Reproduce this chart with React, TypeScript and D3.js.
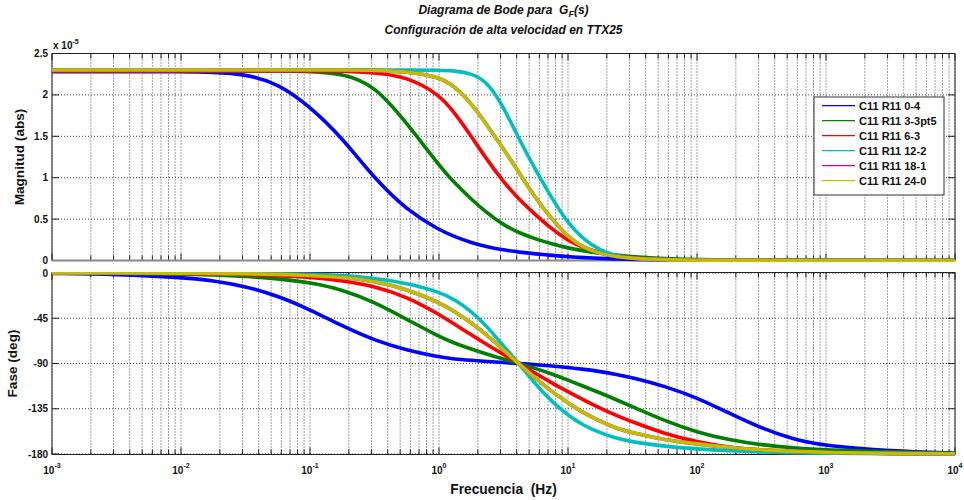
import React from "react";
import * as d3 from "d3";

// Frequency samples (Hz) read along the log axis
const freqHz = [0.001, 0.00316, 0.01, 0.0178, 0.0316, 0.0562, 0.1, 0.178, 0.316, 0.562, 1, 1.33, 1.78, 2.37, 3.16, 4.22, 5.62, 7.5, 10, 13.3, 17.8, 23.7, 31.6, 56.2, 100, 178, 316, 562, 1000, 3162, 10000];

const seriesNames = ["C11 R11 0-4", "C11 R11 3-3pt5", "C11 R11 6-3", "C11 R11 12-2", "C11 R11 18-1", "C11 R11 24-0"];
const seriesColors = ["#0000ff", "#008000", "#ff0000", "#00bfbf", "#bf00bf", "#bfbf00"];

// Magnitude (x 1e-5)
const mag04 = [2.28, 2.28, 2.28, 2.275, 2.25, 2.14, 1.86, 1.48, 0.99, 0.61, 0.37, 0.285, 0.215, 0.165, 0.127, 0.1, 0.08, 0.062, 0.046, 0.034, 0.025, 0.018, 0.012, 0.006, 0.003, 0.002, 0.001, 0.0005, 0.0002, 0.0001, 0];
const mag33 = [2.29, 2.29, 2.29, 2.29, 2.29, 2.29, 2.285, 2.26, 2.12, 1.66, 1.15, 0.93, 0.74, 0.57, 0.43, 0.33, 0.26, 0.2, 0.15, 0.115, 0.087, 0.065, 0.046, 0.02, 0.01, 0.005, 0.002, 0.001, 0.0005, 0.0001, 0];
const mag63 = [2.29, 2.29, 2.29, 2.29, 2.29, 2.29, 2.29, 2.29, 2.27, 2.22, 2.01, 1.78, 1.5, 1.21, 0.95, 0.73, 0.55, 0.38, 0.24, 0.15, 0.095, 0.055, 0.03, 0.01, 0.004, 0.002, 0.001, 0.0005, 0.0003, 0.0001, 0];
const mag122 = [2.3, 2.3, 2.3, 2.3, 2.3, 2.3, 2.3, 2.3, 2.3, 2.3, 2.3, 2.29, 2.26, 2.16, 1.86, 1.45, 1.09, 0.75, 0.45, 0.25, 0.12, 0.055, 0.025, 0.007, 0.003, 0.0015, 0.001, 0.0005, 0.0003, 0.0001, 0];
const mag181 = [2.3, 2.3, 2.3, 2.3, 2.3, 2.3, 2.3, 2.3, 2.3, 2.28, 2.22, 2.1, 1.9, 1.63, 1.35, 1.05, 0.75, 0.5, 0.285, 0.15, 0.085, 0.045, 0.025, 0.008, 0.003, 0.0015, 0.001, 0.0005, 0.0003, 0.0001, 0];
const mag240 = [2.3, 2.3, 2.3, 2.3, 2.3, 2.3, 2.3, 2.3, 2.3, 2.28, 2.22, 2.1, 1.9, 1.63, 1.35, 1.05, 0.75, 0.5, 0.285, 0.15, 0.085, 0.045, 0.025, 0.008, 0.003, 0.0015, 0.001, 0.0005, 0.0003, 0.0001, 0];

// Phase (deg)
const ph04 = [-0.4, -1.4, -4.3, -7.6, -13.2, -22.6, -36.4, -52.8, -67, -77, -83.5, -85.6, -86.8, -88, -89, -90, -91.2, -92.5, -94, -95.8, -98, -100.8, -104, -112.5, -124, -139.5, -154.5, -165.5, -172, -177, -179.2];
const ph33 = [-0.1, -0.3, -1.0, -1.9, -3.3, -5.6, -9.5, -16.5, -29, -46, -63.3, -70, -75.6, -80.8, -85.6, -90.3, -95, -100.3, -106.6, -112.9, -119.3, -126, -133, -147, -158.5, -166, -171, -174, -176, -178, -179.4];
const ph63 = [-0.05, -0.15, -0.5, -0.9, -1.5, -2.6, -4.3, -7.5, -13, -23.5, -41, -51.3, -61.5, -71.5, -81, -90.5, -100, -109.3, -118, -126.5, -134.5, -141.8, -148, -160, -168, -173.5, -176.3, -177.8, -178.7, -179.5, -179.8];
const ph122 = [0, 0, -0.1, -0.2, -0.4, -0.7, -1.3, -2.4, -5, -10, -18.7, -26.5, -38, -53.5, -72.5, -91, -111, -128, -141.5, -152, -159, -164.5, -168, -172.5, -175, -176.8, -178, -178.8, -179.2, -179.7, -179.9];
const ph181 = [0, -0.05, -0.2, -0.4, -0.7, -1.3, -2.3, -4.1, -8, -16, -29, -38.5, -49.5, -62, -76.5, -91, -105, -118, -129, -139.5, -147.5, -154.5, -159, -166, -170, -173.5, -176, -177.5, -178.5, -179.5, -179.8];
const ph240 = [0, -0.05, -0.2, -0.4, -0.7, -1.3, -2.3, -4.1, -8, -16, -29, -38.5, -49.5, -62, -76.5, -91, -105, -118, -129, -139.5, -147.5, -154.5, -159, -166, -170, -173.5, -176, -177.5, -178.5, -179.5, -179.8];

const magSeries = [mag04, mag33, mag63, mag122, mag181, mag240];
const phaseSeries = [ph04, ph33, ph63, ph122, ph181, ph240];

const magTicks = [0, 0.5, 1, 1.5, 2, 2.5];
const magTickLabels = ["0", "0.5", "1", "1.5", "2", "2.5"];
const phaseTicks = [0, -45, -90, -135, -180];
const phaseTickLabels = ["0", "-45", "-90", "-135", "-180"];
const decadeExps = [-3, -2, -1, 0, 1, 2, 3, 4];

const titleLine1 = "Diagrama de Bode para  G";
const titleSub = "F";
const titleTail = "(s)";
const titleLine2 = "Configuración de alta velocidad en TTX25";
const xLabel = "Frecuencia  (Hz)";
const yLabelMag = "Magnitud (abs)";
const yLabelPhase = "Fase (deg)";

const FONT = "'Liberation Sans', Arial, Helvetica, sans-serif";

export default function App() {
  const left = 52, right = 955;
  const x = d3.scaleLog().domain([1e-3, 1e4]).range([left, right]);
  const magTop = 53.5, magBot = 260.5;
  const yMag = d3.scaleLinear().domain([0, 2.5]).range([magBot, magTop]);
  const phTop = 273, phBot = 454;
  const yPh = d3.scaleLinear().domain([-180, 0]).range([phBot, phTop]);

  const majorX = decadeExps.map((e) => Math.pow(10, e));
  const minorX: number[] = [];
  for (let d = -3; d < 4; d++) for (let k = 2; k <= 9; k++) minorX.push(k * Math.pow(10, d));

  const magLine = d3.line<number>().x((_, i) => x(freqHz[i])).y((v) => yMag(v)).curve(d3.curveBasis);
  const phLine = d3.line<number>().x((_, i) => x(freqHz[i])).y((v) => yPh(v)).curve(d3.curveBasis);

  const gridStyle = { stroke: "#444", strokeWidth: 1, strokeDasharray: "1 2" };

  const panel = (top: number, bot: number, yTicksPx: number[], bottomColor: string, key: string) => (
    <g key={key}>
      {[...majorX, ...minorX].map((v, i) => (
        <line key={"gx" + i} x1={x(v)} x2={x(v)} y1={top} y2={bot} {...gridStyle} />
      ))}
      {yTicksPx.map((py, i) => (
        <line key={"gy" + i} x1={left} x2={right} y1={py} y2={py} {...gridStyle} />
      ))}
      {majorX.map((v, i) => (
        <g key={"tx" + i}>
          <line x1={x(v)} x2={x(v)} y1={bot} y2={bot - 7} stroke="#222" />
          <line x1={x(v)} x2={x(v)} y1={top} y2={top + 7} stroke="#222" />
        </g>
      ))}
      {minorX.map((v, i) => (
        <g key={"mx" + i}>
          <line x1={x(v)} x2={x(v)} y1={bot} y2={bot - 5} stroke="#222" />
          <line x1={x(v)} x2={x(v)} y1={top} y2={top + 5} stroke="#222" />
        </g>
      ))}
      {yTicksPx.map((py, i) => (
        <g key={"ty" + i}>
          <line x1={left} x2={left + 7} y1={py} y2={py} stroke="#222" />
          <line x1={right} x2={right - 7} y1={py} y2={py} stroke="#222" />
        </g>
      ))}
      <line x1={left} x2={right} y1={top} y2={top} stroke="#222" />
      <line x1={left} x2={left} y1={top} y2={bot} stroke="#222" />
      <line x1={right} x2={right} y1={top} y2={bot} stroke="#222" />
      <line x1={left} x2={right} y1={bot} y2={bot} stroke={bottomColor} strokeWidth={bottomColor === "#222" ? 1 : 2} />
    </g>
  );

  return (
    <svg width={964} height={500} style={{ position: "absolute", left: 0, top: 0, background: "#fff" }} fontFamily={FONT}>
      <rect x={0} y={0} width={964} height={500} fill="#fff" />
      <defs>
        <clipPath id="clipMag">
          <rect x={left} y={magTop} width={right - left} height={magBot - magTop + 1.5} />
        </clipPath>
        <clipPath id="clipPh">
          <rect x={left} y={phTop - 1} width={right - left} height={phBot - phTop + 3} />
        </clipPath>
      </defs>

      {panel(magTop, magBot, magTicks.map((t) => yMag(t)), "#888", "pm")}
      {panel(phTop - 0.5, phBot + 0.5, phaseTicks.map((t) => yPh(t)), "#222", "pp")}

      <g clipPath="url(#clipMag)">
        {magSeries.map((s, i) => (
          <path key={"m" + i} d={magLine(s) || ""} fill="none" stroke={seriesColors[i]} strokeWidth={3.6} strokeLinejoin="round" />
        ))}
      </g>
      <g clipPath="url(#clipPh)">
        {phaseSeries.map((s, i) => (
          <path key={"p" + i} d={phLine(s) || ""} fill="none" stroke={seriesColors[i]} strokeWidth={3.6} strokeLinejoin="round" />
        ))}
      </g>

      {/* y tick labels */}
      {magTicks.map((t, i) => (
        <text key={"ml" + i} x={48} y={yMag(t) + 3.5} textAnchor="end" fontSize={10} fontWeight="bold" fill="#111">{magTickLabels[i]}</text>
      ))}
      {phaseTicks.map((t, i) => (
        <text key={"pl" + i} x={48} y={yPh(t) + 3.5} textAnchor="end" fontSize={10} fontWeight="bold" fill="#111">{phaseTickLabels[i]}</text>
      ))}
      <text x={53} y={49} fontSize={10} fontWeight="bold" fill="#111">x 10<tspan dy={-5} fontSize={7}>-5</tspan></text>

      {/* x tick labels */}
      {decadeExps.map((e, i) => (
        <text key={"xl" + i} x={x(Math.pow(10, e))} y={474} textAnchor="middle" fontSize={10} fontWeight="bold" fill="#111">
          10<tspan dy={-6} fontSize={7}>{String(e)}</tspan>
        </text>
      ))}

      {/* axis labels */}
      <text x={503.5} y={494} textAnchor="middle" fontSize={13.8} fontWeight="bold" fill="#111" style={{ whiteSpace: "pre" }}>{xLabel}</text>
      <text transform="translate(24,157) rotate(-90)" textAnchor="middle" fontSize={13.6} fontWeight="bold" fill="#111">{yLabelMag}</text>
      <text transform="translate(17,363.5) rotate(-90)" textAnchor="middle" fontSize={13.6} fontWeight="bold" fill="#111">{yLabelPhase}</text>

      {/* title */}
      <text x={503.5} y={14} textAnchor="middle" fontSize={12} fontWeight="bold" fontStyle="italic" fill="#111" style={{ whiteSpace: "pre" }}>
        {titleLine1}<tspan dy={3} fontSize={9}>{titleSub}</tspan><tspan dy={-3}>{titleTail}</tspan>
      </text>
      <text x={503.5} y={34} textAnchor="middle" fontSize={12} fontWeight="bold" fontStyle="italic" fill="#111">{titleLine2}</text>

      {/* legend */}
      <rect x={814} y={97} width={130} height={98} fill="#fff" stroke="#333" strokeWidth={1} />
      {seriesNames.map((n, i) => (
        <g key={"lg" + i}>
          <line x1={822} x2={855} y1={105.7 + 15 * i} y2={105.7 + 15 * i} stroke={seriesColors[i]} strokeWidth={1.2} />
          <text x={859} y={105.7 + 15 * i + 4} fontSize={11} fontWeight="bold" fill="#111">{n}</text>
        </g>
      ))}
    </svg>
  );
}
